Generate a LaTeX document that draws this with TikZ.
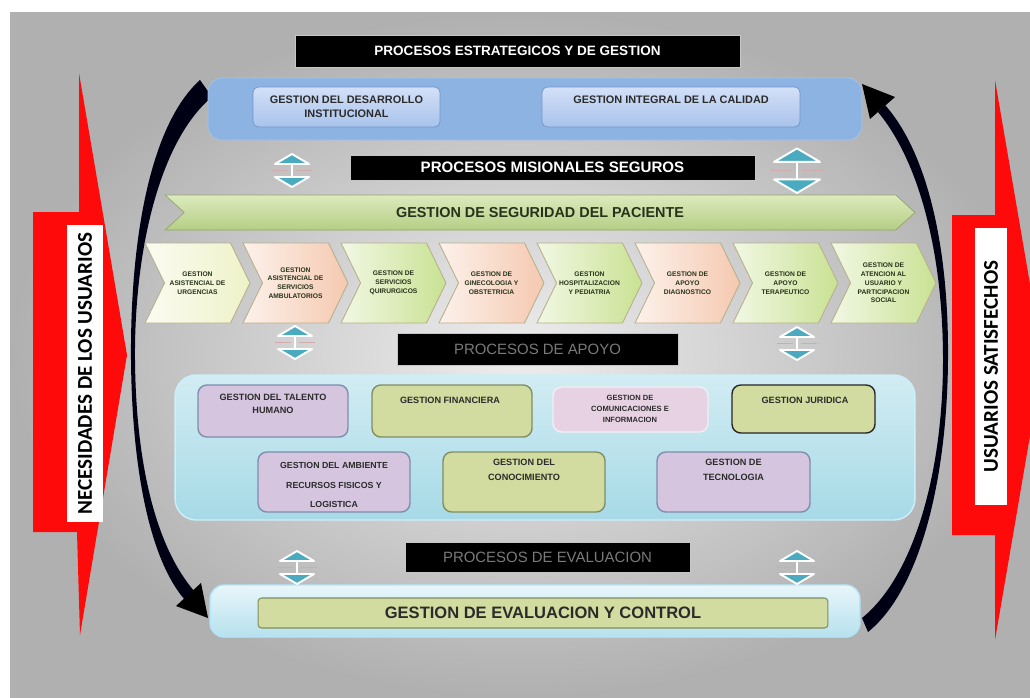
\documentclass[tikz,border=0pt]{standalone}
\usepackage{fontspec}
\setmainfont{Liberation Sans}
\newfontfamily\sidefont{Carlito}
\usepackage{tikz}
\usetikzlibrary{positioning,shapes.symbols,calc}
\definecolor{arrowred}{HTML}{FF0A0A}
\definecolor{bluepanel}{HTML}{8DB3E2}
\definecolor{blueboxtop}{HTML}{D3E0F7}
\definecolor{blueboxbot}{HTML}{A9C3EC}
\definecolor{blueline}{HTML}{7393C8}
\definecolor{bannertop}{HTML}{DCEABD}
\definecolor{bannerbot}{HTML}{B5CE84}
\definecolor{chevcream}{HTML}{EEF2C8}
\definecolor{chevpeach}{HTML}{F5C9B0}
\definecolor{chevgreen}{HTML}{C9E293}
\definecolor{chevline}{HTML}{B7B08A}
\definecolor{apoyotop}{HTML}{D2ECF3}
\definecolor{apoyobot}{HTML}{A6DAE6}
\definecolor{lilac}{HTML}{D6C5DF}
\definecolor{lilacline}{HTML}{7F8CAE}
\definecolor{olive}{HTML}{D3DCA0}
\definecolor{oliveline}{HTML}{7F8D62}
\definecolor{pinkish}{HTML}{E6D2E3}
\definecolor{evaltop}{HTML}{E8F6FA}
\definecolor{evalbot}{HTML}{B6E1ED}
\definecolor{iconteal}{HTML}{4AAABF}
\definecolor{inkdark}{HTML}{2B2B2B}
\definecolor{inkgreen}{HTML}{26331A}
\tikzset{
  every node/.style={font=\bfseries, inner sep=0pt},
  titlebar/.style={
    rectangle, fill=black, draw=gray!45, line width=0.4pt,
    text=white
  },
  dimbar/.style={
    rectangle, fill=black, draw=gray!45, line width=0.4pt,
    text=black!52, font=\fontsize{8.5}{10}\selectfont
  },
  bluebox/.style={
    rectangle, rounded corners=3pt,
    draw=blueline, top color=blueboxtop, bottom color=blueboxbot,
    align=center, text=inkdark,
    font=\fontsize{6.2}{8}\selectfont\bfseries
  },
  chevbox/.style={
    signal, signal from=west, signal to=east, signal pointer angle=128,
    draw=chevline, line width=0.5pt,
    minimum width=2.1cm, minimum height=1.6cm,
    align=center, text=inkgreen,
    font=\fontsize{3.8}{5}\selectfont\bfseries
  },
  apoyobox/.style={
    rectangle, rounded corners=5pt, line width=0.8pt
  },
  boxtext/.style={
    align=center, text=inkdark
  },
  sidelabel/.style={
    rectangle, fill=white, rotate=90, text=black,
    font=\sidefont\bfseries\fontsize{12}{14}\selectfont
  },
  updown/.pic={
    \filldraw[fill=iconteal, draw=white, line width=1.1pt, line join=round]
      (-17,-6) -- (0,-16) -- (17,-6) -- cycle;
    \filldraw[fill=iconteal, draw=white, line width=1.1pt, line join=round]
      (-17,7) -- (0,17) -- (17,7) -- cycle;
    \draw[red!30!gray!50, line width=0.5pt] (-20,0) -- (-4,0) (4,0) -- (20,0);
    \draw[white, line width=0.9pt] (0,-6) -- (0,7);
  },
}

\begin{document}
\begin{tikzpicture}[x=0.02cm, y=-0.02cm]
  \useasboundingbox (0,0) rectangle (1030,697);
  \fill[white] (0,0) rectangle (1030,697);
  \shade[inner color=gray!14, outer color=gray!62] (10,12) rectangle (1030,697);

  % side arrows
  \begin{scope}
    \clip (0,0) rectangle (1030,697);
    \fill[arrowred] (33,212) -- (79,212) -- (79,73) -- (127,355) -- (80,635) -- (77,532) -- (33,532) -- cycle;
    \fill[arrowred] (952,215) -- (995,215) -- (995,80) -- (1043,360) -- (995,640) -- (995,535) -- (952,535) -- cycle;
  \end{scope}
  \node[sidelabel, minimum width=5.94cm, minimum height=0.72cm] (needs) at (85,373.5) {NECESIDADES DE LOS USUARIOS};
  \node[sidelabel, minimum width=5.54cm, minimum height=0.64cm] (happy) at (991,366.5) {USUARIOS SATISFECHOS};

  % cycle arcs
  \fill[black!92!blue] (200,80) .. controls (150,125) and (130,240) .. (131,360)
    .. controls (132,470) and (150,560) .. (185,600)
    -- (195,592) .. controls (158,550) and (136,470) .. (135,360)
    .. controls (134,250) and (160,140) .. (212,97) -- cycle;
  \fill[black] (176,606) -- (208,618) -- (201,583) -- cycle;
  \fill[black!92!blue] (868,632) .. controls (920,590) and (947,480) .. (948,360)
    .. controls (949,240) and (925,150) .. (885,105)
    -- (878,112) .. controls (918,160) and (943,250) .. (943,360)
    .. controls (943,470) and (915,575) .. (862,618) -- cycle;
  \fill[black] (895,97) -- (862,84) -- (870,119) -- cycle;

  % strategic processes
  \node[titlebar, minimum width=8.9cm, minimum height=0.64cm, font=\fontsize{7.7}{9}\selectfont\bfseries] (strattitle) at (517.5,51) {PROCESOS ESTRATEGICOS Y DE GESTION};
  \node[rectangle, rounded corners=8pt, fill=bluepanel, draw=bluepanel!80!white, minimum width=13.08cm, minimum height=1.24cm] (strat) at (535,109) {};
  \node[bluebox, minimum width=3.74cm, minimum height=0.8cm] (desarrollo) at (346.5,107) {GESTION DEL DESARROLLO\\INSTITUCIONAL};
  \node[bluebox, minimum width=5.16cm, minimum height=0.8cm, text depth=8pt] (calidad) at (671,107) {GESTION INTEGRAL DE LA CALIDAD};

  % mission processes
  \node[titlebar, minimum width=8.1cm, minimum height=0.5cm, font=\fontsize{8.6}{10}\selectfont\bfseries] (mistitle) at (552.5,167.5) {PROCESOS MISIONALES SEGUROS};
  \node[signal, signal from=west, signal to=east, signal pointer angle=85,
    top color=bannertop, bottom color=bannerbot, draw=bannerbot!80!black, line width=0.4pt,
    minimum width=15cm, minimum height=0.7cm, text=inkgreen,
    font=\fontsize{8.2}{10}\selectfont\bfseries] (seguridad) at (540,212.5) {GESTION DE SEGURIDAD DEL PACIENTE};
  \foreach \col/\txt [count=\i from 0] in {
      chevcream/{GESTION\\ASISTENCIAL DE\\URGENCIAS},
      chevpeach/{GESTION\\ASISTENCIAL DE\\SERVICIOS\\AMBULATORIOS},
      chevgreen/{GESTION DE\\SERVICIOS\\QUIRURGICOS},
      chevpeach/{GESTION DE\\GINECOLOGIA Y\\OBSTETRICIA},
      chevgreen/{GESTION\\HOSPITALIZACION\\Y PEDIATRIA},
      chevpeach/{GESTION DE\\APOYO\\DIAGNOSTICO},
      chevgreen/{GESTION DE\\APOYO\\TERAPEUTICO},
      chevgreen/{GESTION DE\\ATENCION AL\\USUARIO Y\\PARTICIPACION\\SOCIAL}}
    \node[chevbox, left color=\col!25!white, right color=\col] (mis\i) at (197.5+98*\i,283) {\txt};

  % support processes
  \node[dimbar, minimum width=5.62cm, minimum height=0.64cm] (apoyotitle) at (537.5,349) {PROCESOS DE APOYO};
  \node[rectangle, rounded corners=12pt, top color=apoyotop, bottom color=apoyobot, draw=white!80!cyan, line width=0.8pt,
    minimum width=14.8cm, minimum height=2.9cm] (apoyo) at (545,447.5) {};
  \node[apoyobox, fill=lilac, draw=lilacline, minimum width=3.0cm, minimum height=1.04cm] (talento) at (273,411) {};
  \node[apoyobox, fill=olive, draw=oliveline, minimum width=3.2cm, minimum height=1.04cm] (financiera) at (452,411) {};
  \node[apoyobox, fill=pinkish, draw=white!70!lilac, minimum width=3.1cm, minimum height=0.9cm] (comunica) at (630.5,409.5) {};
  \node[apoyobox, fill=olive, draw=gray!30!black, minimum width=2.86cm, minimum height=0.96cm] (juridica) at (803.5,409) {};
  \node[apoyobox, fill=lilac, draw=lilacline, minimum width=3.04cm, minimum height=1.2cm] (ambiente) at (334,482) {};
  \node[apoyobox, fill=olive, draw=oliveline, minimum width=3.24cm, minimum height=1.2cm] (conocimiento) at (524,482) {};
  \node[apoyobox, fill=lilac, draw=lilacline, minimum width=3.06cm, minimum height=1.2cm] (tecnologia) at (733.5,482) {};
  \node[boxtext, font=\fontsize{5.2}{7.4}\selectfont\bfseries] (talento-t) at (273,404) {GESTION DEL TALENTO\\HUMANO};
  \node[boxtext, font=\fontsize{5.2}{7.4}\selectfont\bfseries] (financiera-t) at (450,400) {GESTION FINANCIERA};
  \node[boxtext, font=\fontsize{4.3}{6.2}\selectfont\bfseries] (comunica-t) at (630,409) {GESTION DE\\COMUNICACIONES E\\INFORMACION};
  \node[boxtext, font=\fontsize{5.2}{7.4}\selectfont\bfseries] (juridica-t) at (805,400) {GESTION JURIDICA};
  \node[boxtext, font=\fontsize{5}{11.3}\selectfont\bfseries] (ambiente-t) at (334,485) {GESTION DEL AMBIENTE\\RECURSOS FISICOS Y\\LOGISTICA};
  \node[boxtext, font=\fontsize{5.2}{8.5}\selectfont\bfseries] (conocimiento-t) at (524,470) {GESTION DEL\\CONOCIMIENTO};
  \node[boxtext, font=\fontsize{5.2}{8.5}\selectfont\bfseries] (tecnologia-t) at (733.5,470) {GESTION DE\\TECNOLOGIA};

  % evaluation processes
  \node[dimbar, minimum width=5.7cm, minimum height=0.6cm] (evaltitle) at (547.5,557) {PROCESOS DE EVALUACION};
  \node[rectangle, rounded corners=8pt, top color=evaltop, bottom color=evalbot, draw=white!70!cyan, line width=0.8pt,
    minimum width=13.0cm, minimum height=1.04cm] (evaluacion) at (535,611) {};
  \node[rectangle, rounded corners=2pt, fill=olive, draw=oliveline, line width=0.6pt,
    minimum width=11.4cm, minimum height=0.6cm, text=inkdark,
    font=\fontsize{9.4}{11}\selectfont\bfseries] (control) at (543,613) {GESTION DE EVALUACION Y CONTROL};

  % links between levels
  \pic at (292,170) {updown};
  \pic[scale=1.35] at (797,170) {updown};
  \pic at (295,342) {updown};
  \pic at (797,343) {updown};
  \pic at (297,567) {updown};
  \pic at (797,567) {updown};
\end{tikzpicture}
\end{document}
